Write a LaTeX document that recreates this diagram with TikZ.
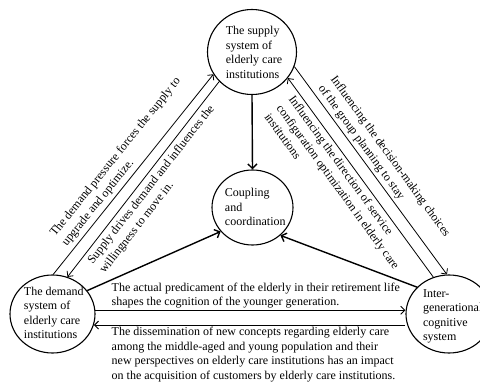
\documentclass[tikz,border=0pt]{standalone}
\usepackage{fontspec}
\setmainfont{Liberation Serif}
\usetikzlibrary{shapes.geometric,arrows.meta}
\begin{document}
\begin{tikzpicture}[x=1pt,y=-1pt,
  circ/.style={ellipse,draw,line width=1.1pt,inner sep=0pt},
  txt/.style={align=left,inner sep=0pt,font=\fontsize{12}{14.5}\selectfont},
  rl/.style={align=left,inner sep=0pt,font=\fontsize{12}{15}\selectfont},
  pairarrow/.style={line width=0.8pt,-{Straight Barb[length=4pt,width=8pt]}},
  bigarrow/.style={line width=1.4pt,-{Straight Barb[length=4.5pt,width=9pt]}},
  midarrow/.style={line width=1pt,-{Straight Barb[length=4pt,width=8pt]}}]
\useasboundingbox (0,0) rectangle (480,383);

% circles
\node[circ,minimum width=89pt,minimum height=85pt] (top) at (252,52) {};
\node[circ,minimum width=81pt,minimum height=75pt] (cc) at (252.5,207.5) {};
\node[circ,minimum width=85pt,minimum height=78pt] (bl) at (52.5,314) {};
\node[circ,minimum width=86pt,minimum height=78pt] (br) at (449,314) {};

% circle texts
\node[txt] (topt) at (254,52.5) {The supply\\system of\\elderly care\\institutions};
\node[txt] (cct) at (255.3,207) {Coupling\\and\\coordination};
\node[txt] (blt) at (53.8,313) {The demand\\system of\\elderly care\\institutions};
\node[txt] (brt) at (452.7,316.5) {Inter-\\generational\\cognitive\\system};

% arrows to centre
\draw[bigarrow] (top.south) -- (cc.north);
\draw[bigarrow] (bl.34) -- (cc.217);
\draw[bigarrow] (br.140) -- (cc.315);

% left pair
\draw[pairarrow] (bl.89) -- (top.210);
\draw[pairarrow] (top.222) -- (bl.68);
% right pair
\draw[pairarrow] (top.341) -- (br.93);
\draw[pairarrow] (br.113) -- (top.324);
% horizontal pair
\draw[midarrow] (bl.5) -- (bl.5 -| br.west);
\draw[midarrow] (bl.-15 -| br.west) -- (bl.-15);

% labels
\node[rl,rotate=51.1] (l1) at (121.5,162) {The demand pressure forces the supply to\\upgrade and optimize.};
\node[rl,rotate=52] (l2) at (157.3,189.6) {Supply drives demand and influences the\\willingness to move in.};
\node[rl,rotate=-54] (r1) at (383.9,161.1) {Influencing the decision-making choices\\of the group planning to stay};
\node[rl,rotate=-54] (r2) at (338.3,186.7) {Influencing the direction of service\\configuration optimization in elderly care\\institutions};
\node[txt,anchor=west] (h1) at (111.5,295.7) {The actual predicament of the elderly in their retirement life\\shapes the cognition of the younger generation.};
\node[txt,anchor=west] (h2) at (111.5,354.5) {The dissemination of new concepts regarding elderly care\\among the middle-aged and young population and their\\new perspectives on elderly care institutions has an impact\\on the acquisition of customers by elderly care institutions.};
\end{tikzpicture}
\end{document}
